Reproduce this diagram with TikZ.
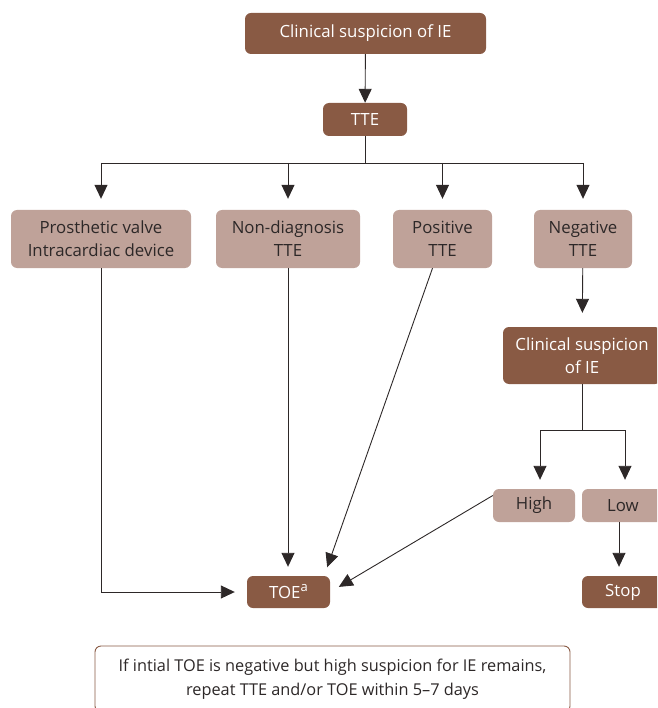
\documentclass[tikz,border=0pt]{standalone}
\usepackage{fontspec}
\setmainfont{Open Sans}
\usetikzlibrary{arrows.meta}

\definecolor{iebrown}{RGB}{137,90,68}
\definecolor{ietan}{RGB}{191,162,153}
\definecolor{ieink}{RGB}{45,40,40}

\begin{document}
\begin{tikzpicture}[x=1pt,y=-1pt,>={Triangle[length=14pt,width=13pt]},
  box/.style={rounded corners=6pt,inner sep=0pt,align=center,
    font=\fontsize{16.8}{23}\selectfont},
  darkbox/.style={box,fill=iebrown,text=white},
  lightbox/.style={box,fill=ietan,text=ieink},
  notebox/.style={box,draw=iebrown,line width=0.9pt,fill=white,text=ieink,
    font=\fontsize{16.3}{24}\selectfont},
  link/.style={->,line width=0.9pt,draw=ieink}]
	\clip (0,0) rectangle (657,708);
	% first row
	\node[darkbox,minimum width=241,minimum height=41] (susp) at (365.5,33.5) {Clinical suspicion of IE};
	\node[darkbox,minimum width=84,minimum height=33] (tte) at (365,119.5) {TTE};
	% the four findings
	\node[lightbox,minimum width=180,minimum height=58] (prost) at (101,239) {Prosthetic valve\\Intracardiac device};
	\node[lightbox,minimum width=144,minimum height=58] (nondiag) at (288,239) {Non-diagnosis\\TTE};
	\node[lightbox,minimum width=99,minimum height=58] (pos) at (442.5,239) {Positive\\TTE};
	\node[lightbox,minimum width=98,minimum height=58] (neg) at (583,239) {Negative\\TTE};
	% negative branch
	\node[darkbox,minimum width=158,minimum height=57] (susp2) at (582,355.5) {Clinical suspicion\\of IE};
	\node[lightbox,minimum width=82,minimum height=33] (high) at (534,505.5) {High};
	\node[lightbox,minimum width=82,minimum height=33] (low) at (623,505.5) {Low};
	\node[darkbox,minimum width=83,minimum height=32] (toe) at (288.5,592)
		{TOE\raisebox{0.42em}{\fontsize{13}{13}\selectfont a}};
	\node[darkbox,minimum width=82,minimum height=32] (stop) at (623,592) {Stop};
	\node[notebox,minimum width=475,minimum height=66] (note) at (332.5,679)
		{If intial TOE is negative but high suspicion for IE remains,\\repeat TTE and/or TOE within 5--7 days};

	\path (0,163) coordinate (bar)
		(540,430) coordinate (hi)
		(625,430) coordinate (lo);

	\draw[link] (susp) -- (tte);
	\draw[line width=0.9pt,draw=ieink] (tte.south) -- (tte.south |- bar)
		(prost.north |- bar) -- (neg.north |- bar);
	\foreach \n in {prost,nondiag,pos,neg}
		\draw[link,shorten >=11pt] (\n.north |- bar) -- (\n.north);
	\draw[link,shorten >=14pt] (neg) -- (susp2);
	\draw[line width=0.9pt,draw=ieink] (susp2.south) -- (susp2.south |- hi) (hi) -- (lo);
	\draw[link,shorten >=9pt] (hi) -- (hi |- high.north);
	\draw[link,shorten >=9pt] (lo) -- (lo |- low.north);
	\draw[link,shorten >=9pt] ([xshift=-4pt]low.south) -- ([xshift=-4pt]stop.north);
	% everything else ends at TOE
	\draw[link,shorten >=12pt] (prost.south) |- (toe.west);
	\draw[link,shorten >=9pt] (nondiag.south) -- (nondiag.south |- toe.north);
	\draw[link,shorten >=9pt] ([xshift=-10pt]pos.south) -- ([xshift=-6pt]toe.north east);
	\draw[link,shorten >=10pt] ([yshift=10pt]high.west) -- (toe.east);
\end{tikzpicture}
\end{document}
